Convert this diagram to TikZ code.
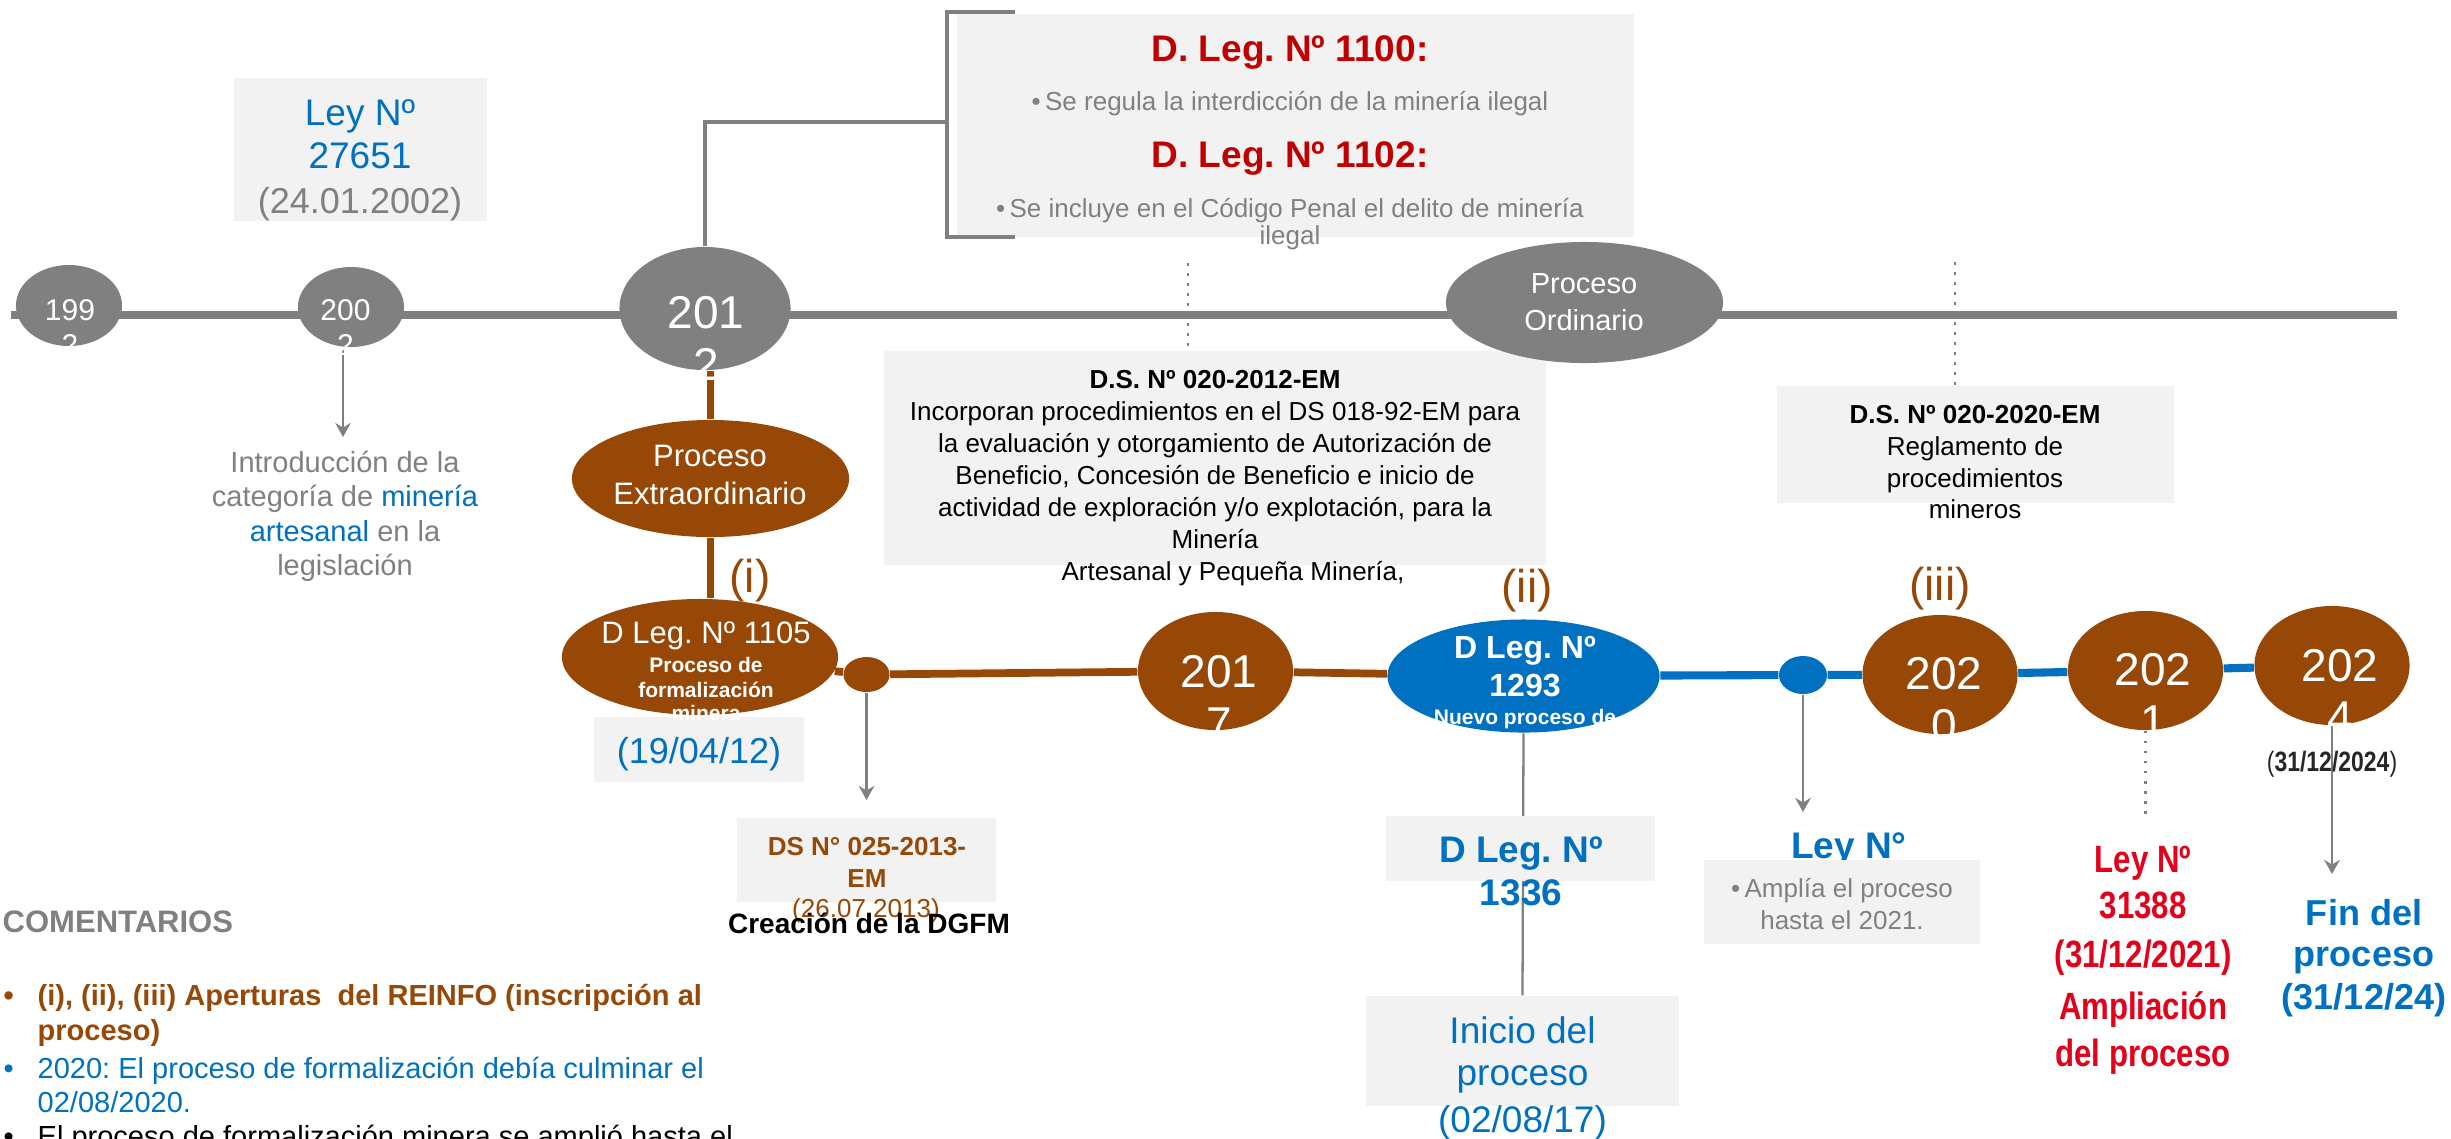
\documentclass[tikz,border=0pt]{standalone}
\usepackage{fontspec}
\setmainfont{Liberation Sans}
\newfontfamily\narrowfont[FakeStretch=0.82]{Liberation Sans}
\usetikzlibrary{shapes.geometric,arrows.meta}
\definecolor{tlgray}{RGB}{128,128,128}
\definecolor{boxgray}{RGB}{242,242,242}
\definecolor{tbrown}{RGB}{151,72,6}
\definecolor{tblue}{RGB}{0,112,192}
\definecolor{dred}{RGB}{192,0,0}
\definecolor{bred}{RGB}{226,0,26}
\definecolor{dtext}{RGB}{38,38,38}
\newdimen\pxu \pxu=0.28453pt
\newcommand\fpx[1]{\fontsize{#1\pxu}{#1\pxu}\selectfont}
\pgfdeclarelayer{bg}
\pgfsetlayers{bg,main}
\begin{document}
\frenchspacing
\begin{tikzpicture}[x=0.01cm,y=-0.01cm,
  tx/.style={inner sep=0pt, anchor=base},
  txl/.style={inner sep=0pt, anchor=base west},
  ell/.style={ellipse, inner sep=0pt},
  gbox/.style={rectangle, fill=boxgray, inner sep=0pt},
  gline/.style={draw=tlgray, line width=2.2pt},
  brline/.style={draw=tbrown, line width=2.2pt},
  blline/.style={draw=tblue, line width=2.3pt},
  gmid/.style={draw=tlgray, line width=1.3pt},
  gthin/.style={draw=tlgray, line width=0.65pt},
  arr/.style={draw=tlgray, line width=0.7pt, -{Stealth[length=4pt,width=4.4pt,inset=1.3pt]}},
  dotl/.style={draw=tlgray, line width=0.75pt, dash pattern=on 0.75pt off 2.1pt},
]
\useasboundingbox (0,0) rectangle (2451,1138);

% text partly hidden by box below
\node[tx, font={\fpx{37}\bfseries}, text=tblue] (tLeyNb) at (1849,858) {Ley N°};

% boxes
\node[gbox, minimum width=2.53cm, minimum height=1.43cm] (bLey) at (360.5,149.5) {};
\node[gbox, minimum width=6.77cm, minimum height=2.23cm] (bDLeg) at (1295.5,125.5) {};
\node[gbox, minimum width=6.62cm, minimum height=2.14cm] (bDS12) at (1215,458) {};
\node[gbox, minimum width=3.97cm, minimum height=1.17cm] (bDS20) at (1975.5,444.5) {};
\node[gbox, minimum width=2.10cm, minimum height=0.65cm] (b1904) at (699,749.5) {};
\node[gbox, minimum width=2.59cm, minimum height=0.84cm] (bDS25) at (866.5,860) {};
\node[gbox, minimum width=2.69cm, minimum height=0.65cm] (b1336) at (1520.5,848.5) {};
\node[gbox, minimum width=3.13cm, minimum height=1.10cm] (bInicio) at (1522.5,1051) {};
\node[gbox, minimum width=2.76cm, minimum height=0.84cm] (bAmplia) at (1842,902) {};

% ellipses
\node[ell, fill=tlgray, minimum width=1.06cm, minimum height=0.81cm] (c1992) at (69,305.5) {};
\node[ell, fill=tlgray, minimum width=1.06cm, minimum height=0.80cm] (c2002) at (351,307) {};
\node[ell, fill=tlgray, minimum width=1.71cm, minimum height=1.23cm] (c2012) at (705,308.5) {};
\node[ell, fill=tlgray, minimum width=2.77cm, minimum height=1.21cm] (pOrd) at (1584.5,302.5) {};
\node[ell, fill=tbrown, minimum width=2.77cm, minimum height=1.17cm] (pExt) at (710.5,478.5) {};
\node[ell, fill=tbrown, minimum width=2.76cm, minimum height=1.16cm] (dl1105) at (700,657) {};
\node[ell, fill=tbrown, minimum width=0.46cm, minimum height=0.35cm] (dot1) at (866.5,674.5) {};
\node[ell, fill=tbrown, minimum width=1.55cm, minimum height=1.18cm] (c2017) at (1215.5,671) {};
\node[ell, fill=tblue, minimum width=2.72cm, minimum height=1.13cm] (dl1293) at (1523.5,676) {};
\node[ell, fill=tblue, minimum width=0.48cm, minimum height=0.38cm] (dot2) at (1803,675) {};
\node[ell, fill=tbrown, minimum width=1.55cm, minimum height=1.19cm] (c2020) at (1940,674.5) {};
\node[ell, fill=tbrown, minimum width=1.55cm, minimum height=1.19cm] (c2021) at (2145.5,670.5) {};
\node[ell, fill=tbrown, minimum width=1.55cm, minimum height=1.19cm] (c2024) at (2332,665.5) {};

% year texts
\node[tx, text=white, font=\fpx{30}] (t1992a) at (70,320) {199};
\node[tx, text=white, font=\fpx{30}] (t1992b) at (70,355) {2};
\node[tx, text=white, font=\fpx{30}] (t2002a) at (345.5,320) {200};
\node[tx, text=white, font=\fpx{30}] (t2002b) at (345.5,355) {2};
\node[tx, text=white, font=\fpx{46}] (t2012a) at (706,328) {201};
\node[tx, text=white, font=\fpx{46}] (t2012b) at (706,380) {2};
\node[tx, text=white, font=\fpx{46}] (t2017a) at (1219,687) {201};
\node[tx, text=white, font=\fpx{46}] (t2017b) at (1219,739) {7};
\node[tx, text=white, font=\fpx{46}] (t2020a) at (1944,689) {202};
\node[tx, text=white, font=\fpx{46}] (t2020b) at (1944,741) {0};
\node[tx, text=white, font=\fpx{46}] (t2021a) at (2153,685) {202};
\node[tx, text=white, font=\fpx{46}] (t2021b) at (2153,737) {1};
\node[tx, text=white, font=\fpx{46}] (t2024a) at (2340,681) {202};
\node[tx, text=white, font=\fpx{46}] (t2024b) at (2340,733) {4};

% Ley 27651
\node[tx, text=tblue, font=\fpx{37}] (tLey1) at (360,125) {Ley Nº};
\node[tx, text=tblue, font=\fpx{37}] (tLey2) at (360,168) {27651};
\node[tx, text=tlgray, font=\fpx{36}] (tLey3) at (360,213) {(24.01.2002)};

% Introduccion
\node[tx, text=tlgray, font=\fpx{29}] (tIn1) at (345,472) {Introducción de la};
\node[tx, text=tlgray, font=\fpx{29}] (tIn2) at (345,506) {categoría de \textcolor{tblue}{minería}};
\node[tx, text=tlgray, font=\fpx{29}] (tIn3) at (345,541) {\textcolor{tblue}{artesanal} en la};
\node[tx, text=tlgray, font=\fpx{29}] (tIn4) at (345,575) {legislación};

% D. Leg. box
\node[tx, text=dred, font={\fpx{37}\bfseries}] (tDL1) at (1290,61) {D. Leg. Nº 1100:};
\node[tx, text=tlgray, font=\fpx{26}] (tDL2) at (1290,110) {•\,Se regula la interdicción de la minería ilegal};
\node[tx, text=dred, font={\fpx{37}\bfseries}] (tDL3) at (1290,167) {D. Leg. Nº 1102:};
\node[tx, text=tlgray, font=\fpx{26}] (tDL4) at (1290,217) {•\,Se incluye en el Código Penal el delito de minería};
\node[tx, text=tlgray, font=\fpx{26}] (tDL5) at (1290,244) {ilegal};

% Proceso Ordinario / Extraordinario
\node[tx, text=white, font=\fpx{29}] (tOrd1) at (1584,293) {Proceso};
\node[tx, text=white, font=\fpx{29}] (tOrd2) at (1584,330) {Ordinario};
\node[tx, text=white, font=\fpx{31}] (tExt1) at (710,466) {Proceso};
\node[tx, text=white, font=\fpx{31}] (tExt2) at (710,504) {Extraordinario};

% DS 020-2012-EM
\node[tx, font={\fpx{26}\bfseries}] (tS1) at (1215,388) {D.S. Nº 020-2012-EM};
\node[tx, font=\fpx{26}] (tS2) at (1215,420) {Incorporan procedimientos en el DS 018-92-EM para};
\node[tx, font=\fpx{26}] (tS3) at (1215,452) {la evaluación y otorgamiento de Autorización de};
\node[tx, font=\fpx{26}] (tS4) at (1215,484) {Beneficio, Concesión de Beneficio e inicio de};
\node[tx, font=\fpx{26}] (tS5) at (1215,516) {actividad de exploración y/o explotación, para la};
\node[tx, font=\fpx{26}] (tS6) at (1215,548) {Minería};
\node[tx, font=\fpx{26}] (tS7) at (1233,580) {Artesanal y Pequeña Minería,};

% DS 020-2020-EM
\node[tx, font={\fpx{26}\bfseries}] (tR1) at (1975,423) {D.S. Nº 020-2020-EM};
\node[tx, font=\fpx{26}] (tR2) at (1975,455) {Reglamento de};
\node[tx, font=\fpx{26}] (tR3) at (1975,487) {procedimientos};
\node[tx, font=\fpx{26}] (tR4) at (1975,518) {mineros};

% D Leg 1105
\node[tx, text=white, font=\fpx{31}] (tA1) at (706,643) {D Leg. Nº 1105};
\node[tx, text=white, font={\fpx{21}\bfseries}] (tA2) at (706,672) {Proceso de};
\node[tx, text=white, font={\fpx{21}\bfseries}] (tA3) at (706,697) {formalización};
\node[tx, text=white, font={\fpx{21}\bfseries}] (tA4) at (706,720) {minera};
\node[tx, text=tblue, font=\fpx{36}] (t1904) at (699,763) {(19/04/12)};

% roman numerals
\node[tx, text=tbrown, font=\fpx{46}] (ti) at (750,592) {(i)};
\node[tx, text=tbrown, font=\fpx{46}] (tii) at (1527,602) {(ii)};
\node[tx, text=tbrown, font=\fpx{46}] (tiii) at (1940,600) {(iii)};

% D Leg 1293
\node[tx, text=white, font={\fpx{32}\bfseries}] (tB1) at (1525,658) {D Leg. Nº};
\node[tx, text=white, font={\fpx{32}\bfseries}] (tB2) at (1525,696) {1293};
\node[tx, text=white, font={\fpx{21}\bfseries}] (tB3) at (1525,724) {Nuevo proceso de};

% D Leg 1336
\node[tx, text=tblue, font={\fpx{37}\bfseries}] (tC1) at (1521,862) {D Leg. Nº};
\node[tx, text=tblue, font={\fpx{37}\bfseries}] (tC2) at (1521,905) {1336};

% Inicio del proceso
\node[tx, text=tblue, font=\fpx{37}] (tI1) at (1522.5,1043) {Inicio del};
\node[tx, text=tblue, font=\fpx{37}] (tI2) at (1522.5,1085) {proceso};
\node[tx, text=tblue, font=\fpx{37}] (tI3) at (1522.5,1132) {(02/08/17)};

% DS 025-2013-EM
\node[tx, text=tbrown, font={\fpx{26}\bfseries}] (tD1) at (867,855) {DS N° 025-2013-};
\node[tx, text=tbrown, font={\fpx{26}\bfseries}] (tD2) at (867,887) {EM};
\node[tx, text=tbrown, font=\fpx{26}] (tD3) at (866,917) {(26.07.2013)};
\node[tx, font={\fpx{28}\bfseries}] (tD4) at (869,933) {Creación de la DGFM};

% Amplia box
\node[tx, text=tlgray, font=\fpx{26}] (tAm1) at (1842,897) {•\,Amplía el proceso};
\node[tx, text=tlgray, font=\fpx{26}] (tAm2) at (1842,929) {hasta el 2021.};

% 31/12/2024
\node[tx, text=dtext, font={\fpx{28}\narrowfont}] (tF24) at (2332,771) {(\textbf{31/12/2024})};

% Ley 31388
\node[tx, text=bred, font={\fpx{38}\narrowfont\bfseries}] (tL1) at (2143,872) {Ley Nº};
\node[tx, text=bred, font={\fpx{38}\narrowfont\bfseries}] (tL2) at (2143,918) {31388};
\node[tx, text=bred, font={\fpx{38}\narrowfont\bfseries}] (tL3) at (2143,967) {(31/12/2021)};
\node[tx, text=bred, font={\fpx{38}\narrowfont\bfseries}] (tL4) at (2143,1019) {Ampliación};
\node[tx, text=bred, font={\fpx{38}\narrowfont\bfseries}] (tL5) at (2143,1066) {del proceso};

% Fin del proceso
\node[tx, text=tblue, font={\fpx{36}\bfseries}] (tFin1) at (2364,925) {Fin del};
\node[tx, text=tblue, font={\fpx{36}\bfseries}] (tFin2) at (2364,966) {proceso};
\node[tx, text=tblue, font={\fpx{36}\bfseries}] (tFin3) at (2364,1009) {(31/12/24)};

% Comentarios
\node[txl, text=tlgray, font={\fpx{31}\bfseries}] (tCom) at (2,932) {COMENTARIOS};
\node[txl, text=tbrown, font={\fpx{29}\bfseries}] (k1b) at (3,1005) {•};
\node[txl, text=tbrown, font={\fpx{29}\bfseries}] (k1) at (37,1005) {(i), (ii), (iii) Aperturas\ \ del REINFO (inscripción al};
\node[txl, text=tbrown, font={\fpx{29}\bfseries}] (k1c) at (37,1040) {proceso)};
\node[txl, text=tblue, font=\fpx{29}] (k2b) at (3,1078) {•};
\node[txl, text=tblue, font=\fpx{29}] (k2) at (37,1078) {2020: El proceso de formalización debía culminar el};
\node[txl, text=tblue, font=\fpx{29}] (k2c) at (37,1112) {02/08/2020.};
\node[txl, text=black, font=\fpx{29}] (k3b) at (3,1146) {•};
\node[txl, text=black, font=\fpx{29}] (k3) at (37,1146) {El proceso de formalización minera se amplió hasta el};

% bracket
\coordinate (brk) at (947,122);
\draw[gmid] (1015,12) -- (947,12) -- (947,237) -- (1015,237);

% connectors behind
\begin{pgfonlayer}{bg}
\coordinate (tlL) at (11,315);
\coordinate (tlR) at (2397,315);
\draw[gline] (tlL) -- (tlR);
\draw[gmid] (c2012.north) |- (brk);
\draw[brline] (pExt.north) -- (pExt.north |- c2012.south);
\draw[brline] (pExt.south) -- (pExt.south |- dl1105.north);
\draw[brline] (dl1105) -- (dot1) -- (c2017) -- (dl1293);
\draw[blline] (dl1293) -- (dot2) -- (c2020) -- (c2021) -- (c2024);
\draw[gthin] (dl1293.south) -- (bInicio.north);
\coordinate (a1e) at (343,437);
\draw[arr] (a1e |- c2002.south) -- (a1e);
\coordinate (a2e) at (866.5,800);
\draw[arr] (dot1.south) -- (a2e);
\coordinate (a3e) at (1803,812);
\draw[arr] (dot2.south) -- (a3e);
\coordinate (a4e) at (2332,874);
\draw[arr] (c2024.south) -- (a4e);
\coordinate (d1t) at (1188,263);
\draw[dotl] (d1t) -- (d1t |- bDS12.north);
\coordinate (d2t) at (1955,262);
\draw[dotl] (d2t) -- (d2t |- bDS20.north);
\coordinate (d3e) at (2145.5,820);
\draw[dotl] (c2021.south) -- (d3e);
\end{pgfonlayer}
\end{tikzpicture}
\end{document}
